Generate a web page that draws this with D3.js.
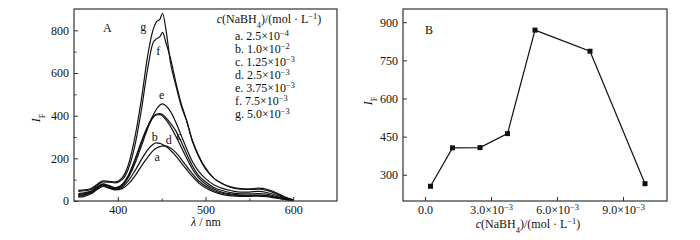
<!DOCTYPE html>
<html>
<head>
<meta charset="utf-8">
<script src="https://cdn.jsdelivr.net/npm/d3@7"></script>
<style>
  body { margin: 0; background: #fff; }
  svg text { font-family: "Liberation Serif", "DejaVu Serif", serif; fill: #111; }
</style>
</head>
<body>
<div id="container"></div>
<script>
/***** data *****/
// panel A: emission spectra
const wavelengths = [355, 362, 370, 377, 383, 390, 397, 405, 412, 420, 427, 434, 440, 444, 448, 451, 455, 460, 466, 472, 478, 485, 492, 500, 510, 520, 530, 540, 550, 560, 570, 580, 590, 600];
const curveA = [18, 22, 35, 55, 68, 60, 52, 58, 80, 120, 165, 205, 235, 248, 255, 258, 257, 248, 228, 198, 165, 128, 95, 70, 48, 35, 28, 25, 25, 27, 24, 16, 8, 2];
const curveB = [22, 28, 40, 60, 72, 62, 55, 65, 95, 145, 195, 240, 265, 272, 270, 265, 255, 238, 212, 180, 150, 115, 85, 62, 42, 30, 24, 22, 22, 23, 20, 14, 8, 2];
const curveC = [35, 38, 48, 68, 80, 72, 62, 78, 120, 200, 280, 350, 395, 408, 410, 405, 390, 365, 330, 280, 225, 165, 120, 90, 62, 48, 38, 33, 33, 35, 32, 22, 12, 3];
const curveD = [25, 30, 42, 62, 75, 65, 58, 72, 115, 195, 275, 345, 390, 403, 405, 398, 380, 350, 305, 255, 205, 150, 110, 80, 55, 40, 32, 28, 27, 28, 25, 18, 10, 3];
const curveE = [30, 35, 45, 65, 78, 70, 62, 75, 110, 180, 260, 340, 400, 430, 450, 455, 445, 420, 370, 310, 250, 185, 140, 105, 75, 58, 48, 42, 42, 45, 40, 28, 15, 4];
const curveF = [45, 48, 55, 75, 90, 88, 85, 100, 150, 270, 430, 620, 740, 760, 770, 790, 740, 670, 560, 460, 385, 285, 215, 155, 105, 80, 62, 55, 54, 55, 50, 35, 18, 5];
const curveG = [50, 52, 60, 80, 95, 92, 90, 110, 170, 310, 480, 680, 800, 840, 852, 880, 800, 650, 545, 450, 380, 280, 210, 150, 105, 80, 65, 58, 57, 60, 55, 40, 20, 5];
const curveNames = ["a", "b", "c", "d", "e", "f", "g"];
const curves = [curveA, curveB, curveC, curveD, curveE, curveF, curveG];

const xTicksA = [400, 500, 600];
const yTicksA = [0, 200, 400, 600, 800];

const legendMantissa = ["a. 2.5×10", "b. 1.0×10", "c. 1.25×10", "d. 2.5×10", "e. 3.75×10", "f. 7.5×10", "g. 5.0×10"];
const legendExponent = ["−4", "−2", "−3", "−3", "−3", "−3", "−3"];

// curve letter labels: [wavelength, intensity]
const curveLabelPos = [[445, 206], [442, 300], [470, 305], [458, 286], [450, 497], [446, 703], [429, 818]];

// panel B: peak intensity vs concentration
const concB = [0.25e-3, 1.25e-3, 2.5e-3, 3.75e-3, 5.0e-3, 7.5e-3, 10.0e-3];
const intensityB = [255, 406, 407, 462, 869, 786, 265];
const xTicksB = [0, 3e-3, 6e-3, 9e-3];
const yTicksB = [300, 450, 600, 750, 900];

/***** svg *****/
const svg = d3.select("#container").append("svg")
  .attr("width", 700).attr("height", 240);

function frame(g, w, h) {
  g.append("rect").attr("x", 0).attr("y", 0).attr("width", w).attr("height", h)
    .attr("fill", "none").attr("stroke", "#333").attr("stroke-width", 1.2);
}

function styleAxis(ax) {
  ax.select(".domain").remove();
  ax.selectAll("line").attr("stroke", "#333");
  ax.selectAll("text").attr("font-size", 12).attr("fill", "#111");
}

function subText(t, parts) {
  // parts: [text, mode] where mode is "", "sup", "sub", "it"
  parts.forEach(p => {
    const s = t.append("tspan").text(p[0]);
    if (p[1] === "sup") s.attr("baseline-shift", "super").attr("font-size", "70%");
    if (p[1] === "sub") s.attr("baseline-shift", "sub").attr("font-size", "70%");
    if (p[1] === "it") s.attr("font-style", "italic");
  });
}

/***** panel A *****/
const wA = 263, hA = 192;
const gA = svg.append("g").attr("transform", "translate(74,9)");

const xA = d3.scaleLinear().domain([350, 650]).range([0, wA]);
const yA = d3.scaleLinear().domain([0, 900]).range([hA, 0]);

gA.append("g").attr("transform", "translate(0," + hA + ")")
  .call(d3.axisBottom(xA).tickValues([450, 550]).tickSize(-2.5).tickFormat(""))
  .call(styleAxis);
gA.append("g").attr("transform", "translate(0," + hA + ")")
  .call(d3.axisBottom(xA).tickValues(xTicksA).tickSize(-4).tickPadding(4).tickFormat(d3.format("d")))
  .call(styleAxis);
gA.append("g")
  .call(d3.axisLeft(yA).tickValues([100, 300, 500, 700]).tickSize(-2.5).tickFormat(""))
  .call(styleAxis);
gA.append("g")
  .call(d3.axisLeft(yA).tickValues(yTicksA).tickSize(-4).tickPadding(5).tickFormat(d3.format("d")))
  .call(styleAxis);

const lineA = d3.line()
  .x((d, i) => xA(wavelengths[i]))
  .y(d => yA(d))
  .curve(d3.curveMonotoneX);

gA.selectAll(".spec").data(curves).join("path")
  .attr("class", "spec")
  .attr("fill", "none")
  .attr("stroke", "#111")
  .attr("stroke-width", 1.2)
  .attr("d", lineA);

gA.selectAll(".clab").data(curveNames).join("text")
  .attr("class", "clab")
  .attr("x", (d, i) => xA(curveLabelPos[i][0]))
  .attr("y", (d, i) => yA(curveLabelPos[i][1]))
  .attr("text-anchor", "middle")
  .attr("dy", "0.35em")
  .attr("font-size", 12)
  .text(d => d);

frame(gA, wA, hA);

gA.append("text").attr("x", 29).attr("y", 23).attr("font-size", 12).text("A");

// legend
const legT = gA.append("text").attr("x", 195).attr("y", 14).attr("font-size", 12).attr("text-anchor", "middle");
subText(legT, [["c", "it"], ["(NaBH", ""], ["4", "sub"], [")/(mol · L", ""], ["−1", "sup"], [")", ""]]);

legendMantissa.forEach((m, i) => {
  const t = gA.append("text").attr("x", 161).attr("y", 31 + i * 13).attr("font-size", 12);
  subText(t, [[m, ""], [legendExponent[i], "sup"]]);
});

// axis titles
const ytA = svg.append("text").attr("transform", "translate(40,118) rotate(-90)")
  .attr("text-anchor", "middle").attr("font-size", 12);
subText(ytA, [["I", "it"], ["F", "sub"]]);
const xtA = svg.append("text").attr("x", 206).attr("y", 226).attr("text-anchor", "middle").attr("font-size", 12);
subText(xtA, [["λ", "it"], [" / nm", ""]]);

/***** panel B *****/
const wB = 264, hB = 192;
const gB = svg.append("g").attr("transform", "translate(403,9)");

const xB = d3.scaleLinear().domain([-1e-3, 11e-3]).range([0, wB]);
const yB = d3.scaleLinear().domain([197, 952]).range([hB, 0]);

gB.append("g")
  .call(d3.axisLeft(yB).tickValues(yTicksB).tickSize(-4).tickPadding(5).tickFormat(d3.format("d")))
  .call(styleAxis);

const xAxB = gB.append("g").attr("transform", "translate(0," + hB + ")")
  .call(d3.axisBottom(xB).tickValues(xTicksB).tickSize(-4).tickPadding(4).tickFormat(""))
  .call(styleAxis);
xAxB.selectAll(".tick text").each(function(d) {
  const t = d3.select(this);
  if (d === 0) { t.text("0.0"); return; }
  subText(t, [[(d * 1000).toFixed(1) + "×10", ""], ["−3", "sup"]]);
});

gB.append("path")
  .datum(intensityB)
  .attr("fill", "none")
  .attr("stroke", "#111")
  .attr("stroke-width", 1.2)
  .attr("d", d3.line().x((d, i) => xB(concB[i])).y(d => yB(d)));

gB.selectAll(".pt").data(intensityB).join("rect")
  .attr("class", "pt")
  .attr("x", (d, i) => xB(concB[i]) - 2.5)
  .attr("y", d => yB(d) - 2.5)
  .attr("width", 5).attr("height", 5)
  .attr("fill", "#111");

frame(gB, wB, hB);

gB.append("text").attr("x", 22).attr("y", 25).attr("font-size", 12).text("B");

const ytB = svg.append("text").attr("transform", "translate(372,101) rotate(-90)")
  .attr("text-anchor", "middle").attr("font-size", 12);
subText(ytB, [["I", "it"], ["F", "sub"]]);
const xtB = svg.append("text").attr("x", 528).attr("y", 228).attr("text-anchor", "middle").attr("font-size", 12);
subText(xtB, [["c", "it"], ["(NaBH", ""], ["4", "sub"], [")/(mol · L", ""], ["−1", "sup"], [")", ""]]);
</script>
</body>
</html>
